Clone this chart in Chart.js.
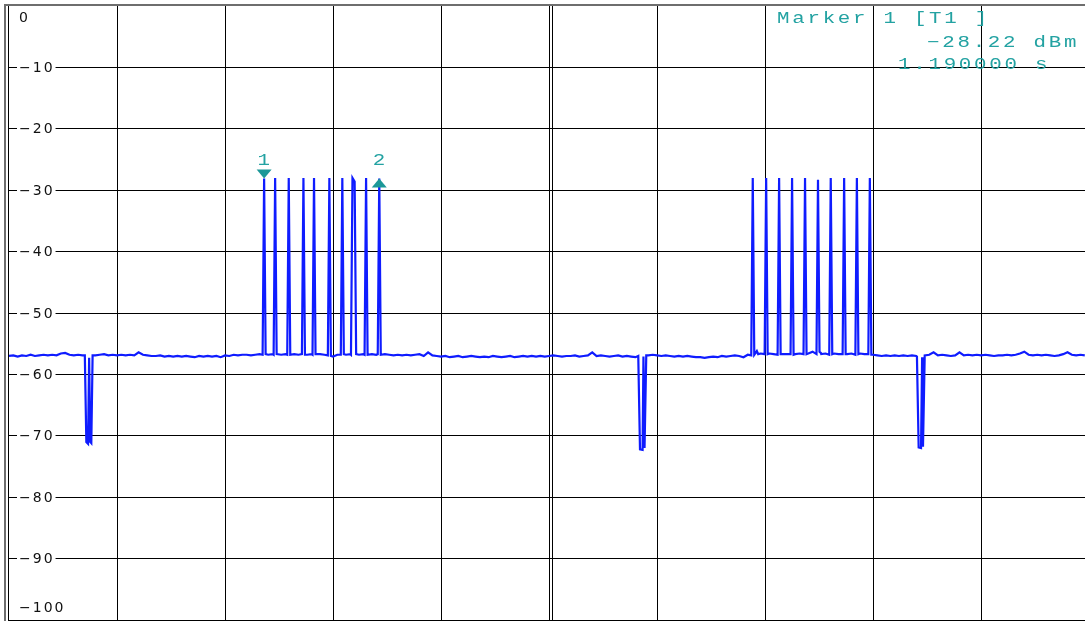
<!DOCTYPE html>
<html><head><meta charset="utf-8">
<script src="https://cdn.jsdelivr.net/npm/chart.js@4/dist/chart.umd.min.js"></script>
<style>html,body{margin:0;padding:0;background:#fff;overflow:hidden}#wrap{width:1085px;height:621px;position:relative}</style>
</head><body><div id="wrap"><canvas id="c" width="1085" height="621"></canvas></div>
<script>
// ---- axis ----
const yTickValues = [0,-10,-20,-30,-40,-50,-60,-70,-80,-90,-100];
const yTickLabels = ['0','\u221210','\u221220','\u221230','\u221240','\u221250','\u221260','\u221270','\u221280','\u221290','\u2212100'];
const sweepStart = 0, sweepShown = 4.981, sweepDiv = 0.5;

// ---- noise floor, one sample every 0.02 s (dBm) ----
const floorStep = 0.02;
const floorLevels = [
-57.0,-56.9,-57.1,-56.9,-57.0,-56.8,-57.0,-56.9,-56.8,-56.9,
-56.8,-56.9,-56.6,-56.5,-56.8,-56.9,-56.8,-56.9,-57.0,-57.1,
-56.9,-56.8,-56.7,-56.9,-56.8,-56.9,-56.8,-56.9,-56.8,-56.9,
-56.4,-56.8,-56.9,-57.0,-57.0,-56.9,-57.1,-57.0,-57.1,-57.0,
-57.1,-57.0,-57.1,-57.2,-57.0,-57.1,-57.0,-57.1,-57.0,-57.2,
-56.9,-57.0,-56.8,-56.9,-56.8,-56.8,-56.9,-56.8,-56.7,-56.8,
-56.8,-56.7,-56.8,-56.8,-56.7,-56.8,-56.7,-56.8,-56.7,-56.8,
-56.7,-56.8,-56.7,-56.8,-57.0,-57.1,-56.8,-56.7,-56.8,-56.7,
-56.7,-56.8,-56.7,-56.8,-56.7,-56.8,-56.8,-56.7,-56.8,-56.9,
-56.8,-56.9,-56.8,-56.9,-56.8,-56.7,-57.0,-56.4,-56.9,-57.0,
-57.1,-57.0,-57.2,-57.1,-57.0,-57.2,-57.1,-57.0,-57.1,-57.2,
-57.1,-57.2,-57.0,-57.1,-57.2,-57.1,-57.0,-57.2,-57.1,-57.0,
-57.1,-57.0,-57.1,-57.0,-57.1,-57.0,-56.9,-57.0,-57.1,-57.0,
-57.0,-56.9,-57.1,-57.0,-56.9,-56.4,-57.0,-56.9,-57.0,-57.1,
-57.0,-56.9,-57.1,-57.0,-57.1,-57.2,-57.3,-57.0,-56.9,-56.8,
-56.9,-57.0,-56.9,-57.0,-57.1,-57.0,-57.1,-57.0,-57.1,-57.2,
-57.2,-57.3,-57.2,-57.1,-57.2,-57.0,-57.1,-57.0,-56.9,-57.0,
-57.2,-56.8,-56.6,-56.7,-56.6,-56.7,-56.6,-56.7,-56.6,-56.7,
-56.7,-56.6,-56.7,-56.6,-56.7,-56.6,-56.3,-56.6,-56.7,-56.6,
-56.7,-56.6,-56.7,-56.6,-56.7,-56.6,-56.7,-56.6,-56.7,-56.6,
-56.8,-56.9,-57.0,-56.9,-57.0,-56.9,-57.0,-56.9,-57.0,-56.9,
-57.0,-57.1,-57.2,-56.8,-56.4,-56.9,-56.8,-56.9,-57.0,-56.9,
-56.4,-56.9,-56.8,-56.9,-56.8,-56.9,-56.8,-56.9,-57.0,-56.9,
-56.9,-56.8,-56.9,-56.8,-56.6,-56.3,-56.8,-56.9,-56.8,-56.9,
-56.8,-56.9,-57.0,-56.9,-56.7,-56.4,-56.8,-56.9,-56.8,-56.9
];

// ---- first burst: [time s, dBm] per pulse ----
const burstA = [
 [[1.174,-56.8],[1.181,-28.1],[1.188,-56.7]],
 [[1.225,-56.8],[1.232,-28.0],[1.239,-56.7]],
 [[1.288,-56.8],[1.295,-28.0],[1.302,-56.8]],
 [[1.356,-56.7],[1.363,-28.0],[1.370,-56.8]],
 [[1.405,-56.8],[1.412,-28.0],[1.419,-56.7]],
 [[1.476,-56.9],[1.483,-28.0],[1.490,-57.0]],
 [[1.536,-56.8],[1.543,-28.0],[1.550,-56.7]],
 [[1.583,-56.8],[1.590,-28.0],[1.600,-28.6],[1.607,-56.7]],
 [[1.646,-56.8],[1.653,-28.0],[1.660,-56.8]],
 [[1.707,-56.7],[1.714,-28.1],[1.721,-56.8]]
];
// ---- second burst ----
const burstB = [
 [[3.436,-56.9],[3.443,-28.0],[3.450,-56.8],[3.462,-56.2],[3.468,-56.7]],
 [[3.498,-56.7],[3.505,-28.0],[3.512,-56.7]],
 [[3.558,-56.8],[3.565,-28.0],[3.572,-56.7]],
 [[3.618,-56.7],[3.625,-28.0],[3.632,-56.8]],
 [[3.678,-56.7],[3.685,-28.0],[3.692,-56.7]],
 [[3.738,-56.7],[3.745,-28.3],[3.752,-56.3],[3.758,-56.5]],
 [[3.797,-56.8],[3.804,-28.0],[3.811,-56.7]],
 [[3.859,-56.7],[3.866,-28.0],[3.873,-56.7]],
 [[3.918,-56.8],[3.925,-28.0],[3.932,-56.7]],
 [[3.978,-56.7],[3.985,-28.0],[3.992,-56.8]]
];
// ---- dropouts ----
const dropouts = [
 [[0.351,-56.9],[0.358,-71.0],[0.366,-71.3],[0.371,-57.3],[0.376,-71.0],[0.381,-71.2],[0.387,-56.9]],
 [[2.913,-57.0],[2.921,-72.2],[2.933,-72.3],[2.937,-57.1],[2.942,-72.0],[2.950,-56.9]],
 [[4.203,-57.1],[4.211,-71.9],[4.222,-72.0],[4.227,-57.2],[4.231,-71.8],[4.239,-56.9]]
];

// ---- markers ----
const markerNames = ['1','2'];
const markerTimes = [1.181, 1.714];
const markerLevels = [-28.1, -28.1];
const markerPointing = ['down','up'];
const readoutLines = ['Marker 1 [T1 ]', '\u221228.22 dBm', '1.190000 s'];

// ---- build trace ----
const groups = [...burstA, ...burstB, ...dropouts];
const ranges = groups.map(g => [g[0][0], g[g.length-1][0]]);
const trace = [];
floorLevels.forEach((v,i) => {
  const t = sweepStart + i*floorStep;
  if (!ranges.some(r => t >= r[0]-0.001 && t <= r[1]+0.001)) trace.push({x:t, y:v});
});
groups.forEach(g => g.forEach(p => trace.push({x:p[0], y:p[1]})));
trace.sort((a,b) => a.x - b.x);

const TEAL = '#23a2a2';
function monoText(ctx, text, x, y, align) {
  ctx.save();
  ctx.font = '16px "Liberation Mono", monospace';
  ctx.letterSpacing = '2.1px';
  ctx.fillStyle = TEAL;
  ctx.textBaseline = 'alphabetic';
  ctx.translate(x, y);
  ctx.scale(1.3, 1);
  if (align === 'center') {
    const w = ctx.measureText(text).width;
    ctx.fillText(text, -w/2, 0);
  } else ctx.fillText(text, 0, 0);
  ctx.restore();
}

const framePlugin = {
  id: 'frame',
  beforeDatasetsDraw(chart) {
    const {ctx, chartArea: a, scales: {x}} = chart;
    ctx.save();
    const cx = Math.round(x.getPixelForValue(2.5)) + 3.5;
    ctx.strokeStyle = '#000'; ctx.lineWidth = 1;
    ctx.beginPath(); ctx.moveTo(cx, a.top); ctx.lineTo(cx, a.bottom); ctx.stroke();
    ctx.fillStyle = '#6e6e6e';
    ctx.fillRect(4, 4, chart.width - 4, 2);
    ctx.fillRect(4, 4, 2, chart.height - 4);
    ctx.fillStyle = '#000';
    ctx.fillRect(8, 6, 1, chart.height - 6);
    ctx.restore();
  },
  afterDraw(chart) {
    const {ctx, chartArea: a, scales: {x, y}} = chart;
    ctx.save();
    ctx.font = '14px "DejaVu Sans", sans-serif';
    ctx.letterSpacing = '2px';
    ctx.textBaseline = 'middle';
    yTickValues.forEach((v, i) => {
      let py = y.getPixelForValue(v);
      if (v === 0) py += 11;
      if (v === -100) py -= 13;
      const w = ctx.measureText(yTickLabels[i]).width;
      ctx.fillStyle = '#fff';
      ctx.fillRect(17, py - 7, w + 3, 14);
      ctx.fillStyle = '#111';
      ctx.fillText(yTickLabels[i], 19, py + 1);
    });
    ctx.restore();
    markerTimes.forEach((t, i) => {
      const px = x.getPixelForValue(t), py = y.getPixelForValue(markerLevels[i]);
      ctx.save();
      ctx.fillStyle = '#1c9898';
      ctx.beginPath();
      if (markerPointing[i] === 'down') {
        ctx.moveTo(px - 7.5, py - 9); ctx.lineTo(px + 7.5, py - 9); ctx.lineTo(px, py);
      } else {
        ctx.moveTo(px, py); ctx.lineTo(px - 7.5, py + 9); ctx.lineTo(px + 7.5, py + 9);
      }
      ctx.closePath(); ctx.fill();
      ctx.restore();
      monoText(ctx, markerNames[i], px + 1, py - 14, 'center');
    });
    monoText(ctx, readoutLines[0], 777, 23);
    monoText(ctx, readoutLines[1], 927, 47);
    monoText(ctx, readoutLines[2], 898, 69);
  }
};

new Chart(document.getElementById('c'), {
  type: 'line',
  data: { datasets: [{
    data: trace,
    borderColor: '#0f1cff',
    borderWidth: 2.2,
    pointRadius: 0,
    tension: 0,
    fill: false
  }]},
  options: {
    responsive: false,
    animation: false,
    devicePixelRatio: 1,
    layout: { padding: { left: 9, top: 6, right: 0, bottom: 1 } },
    plugins: { legend: { display: false }, tooltip: { enabled: false } },
    scales: {
      x: {
        type: 'linear', min: sweepStart, max: sweepShown,
        ticks: { display: false, stepSize: sweepDiv, includeBounds: false },
        border: { display: false },
        grid: { drawTicks: false, lineWidth: 1,
          color: c => (c.tick && c.tick.value === 0) ? 'rgba(0,0,0,0)' : '#000' }
      },
      y: {
        type: 'linear', min: -100, max: 0,
        ticks: { display: false, stepSize: 10, includeBounds: false },
        border: { display: false },
        grid: { drawTicks: false, lineWidth: 1,
          color: c => (c.tick && c.tick.value === 0) ? 'rgba(0,0,0,0)' : '#000' }
      }
    }
  },
  plugins: [framePlugin]
});
</script>
</body></html>
